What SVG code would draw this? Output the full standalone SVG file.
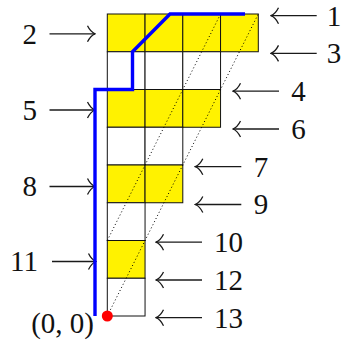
<svg xmlns="http://www.w3.org/2000/svg" width="343" height="341" viewBox="0 0 343 341">
<style>
.y{fill:#fff200;stroke:#111;stroke-width:1}
.w{fill:#fff;stroke:#111;stroke-width:1}
.dot{fill:none;stroke:#000;stroke-width:1;stroke-dasharray:1 2.5}
.arr{fill:none;stroke:#1a1a1a;stroke-width:1.3;marker-end:url(#hd)}
.t{font-size:29px;fill:#111}
.m{text-anchor:middle}
</style>
<defs>
<marker id="hd" markerUnits="userSpaceOnUse" viewBox="-9 -9 10 18" refX="0" refY="0" markerWidth="10" markerHeight="18" orient="auto">
<path d="M -7.5 -8 C -5 -3 -2 -0.8 0 0 C -2 0.8 -5 3 -7.5 8" fill="none" stroke="#1a1a1a" stroke-width="1.3"/>
</marker>
</defs>
<g id="grid">
<rect class="y" x="107.3" y="14" width="37.75" height="37.75"/>
<rect class="y" x="145.05" y="14" width="37.75" height="37.75"/>
<rect class="y" x="182.8" y="14" width="37.75" height="37.75"/>
<rect class="y" x="220.55" y="14" width="37.75" height="37.75"/>
<rect class="w" x="107.3" y="51.75" width="37.75" height="37.75"/>
<rect class="w" x="145.05" y="51.75" width="37.75" height="37.75"/>
<rect class="w" x="182.8" y="51.75" width="37.75" height="37.75"/>
<rect class="y" x="107.3" y="89.5" width="37.75" height="37.75"/>
<rect class="y" x="145.05" y="89.5" width="37.75" height="37.75"/>
<rect class="y" x="182.8" y="89.5" width="37.75" height="37.75"/>
<rect class="w" x="107.3" y="127.25" width="37.75" height="37.75"/>
<rect class="w" x="145.05" y="127.25" width="37.75" height="37.75"/>
<rect class="y" x="107.3" y="165" width="37.75" height="37.75"/>
<rect class="y" x="145.05" y="165" width="37.75" height="37.75"/>
<rect class="w" x="107.3" y="202.75" width="37.75" height="37.75"/>
<rect class="y" x="107.3" y="240.5" width="37.75" height="37.75"/>
<rect class="w" x="107.3" y="278.25" width="37.75" height="37.75"/>
</g>
<g id="diagonals">
<line class="dot" x1="107.3" y1="316" x2="258.3" y2="14"/>
<line class="dot" x1="107.3" y1="240.5" x2="220.55" y2="14"/>
</g>
<g id="connectors">
<line class="arr" x1="316.7" y1="15.7" x2="271" y2="15.7"/>
<line class="arr" x1="316.7" y1="53.4" x2="271" y2="53.4"/>
<line class="arr" x1="279" y1="91.2" x2="233" y2="91.2"/>
<line class="arr" x1="279" y1="129" x2="233" y2="129"/>
<line class="arr" x1="241.3" y1="166.7" x2="195.3" y2="166.7"/>
<line class="arr" x1="241.3" y1="204.5" x2="195.3" y2="204.5"/>
<line class="arr" x1="202" y1="242.2" x2="156" y2="242.2"/>
<line class="arr" x1="202" y1="280" x2="156" y2="280"/>
<line class="arr" x1="202" y1="317.7" x2="156" y2="317.7"/>
<line class="arr" x1="49.5" y1="33.8" x2="95" y2="33.8"/>
<line class="arr" x1="49.5" y1="110" x2="95" y2="110"/>
<line class="arr" x1="49.5" y1="186.5" x2="95" y2="186.5"/>
<line class="arr" x1="52" y1="261.5" x2="96" y2="261.5"/>
</g>
<g id="path">
<polyline points="95,316 95,89.5 132.5,89.5 132.5,51.75 170,14 245,14" fill="none" stroke="#0000ff" stroke-width="3.4" stroke-linejoin="miter"/>
</g>
<g id="origin">
<circle cx="107.3" cy="316" r="5.5" fill="#ff0000"/>
<text class="t" font-family="'Liberation Serif', serif" x="94" y="333" text-anchor="end">(0, 0)</text>
</g>
<g id="labels" font-family="'Liberation Serif', serif">
<g id="label-1"><text class="t m" x="334" y="25.5">1</text></g>
<g id="label-3"><text class="t m" x="334" y="63.2">3</text></g>
<g id="label-4"><text class="t m" x="298.5" y="101">4</text></g>
<g id="label-6"><text class="t m" x="298.5" y="138.8">6</text></g>
<g id="label-7"><text class="t m" x="261" y="176.5">7</text></g>
<g id="label-9"><text class="t m" x="261" y="214.3">9</text></g>
<g id="label-10"><text class="t m" x="228.5" y="252">10</text></g>
<g id="label-12"><text class="t m" x="228.5" y="289.8">12</text></g>
<g id="label-13"><text class="t m" x="228.5" y="327.5">13</text></g>
<g id="label-2"><text class="t m" x="29.7" y="43.6">2</text></g>
<g id="label-5"><text class="t m" x="29.7" y="119.8">5</text></g>
<g id="label-8"><text class="t m" x="29.7" y="196.3">8</text></g>
<g id="label-11"><text class="t m" x="24" y="271.3">11</text></g>
</g>
</svg>
